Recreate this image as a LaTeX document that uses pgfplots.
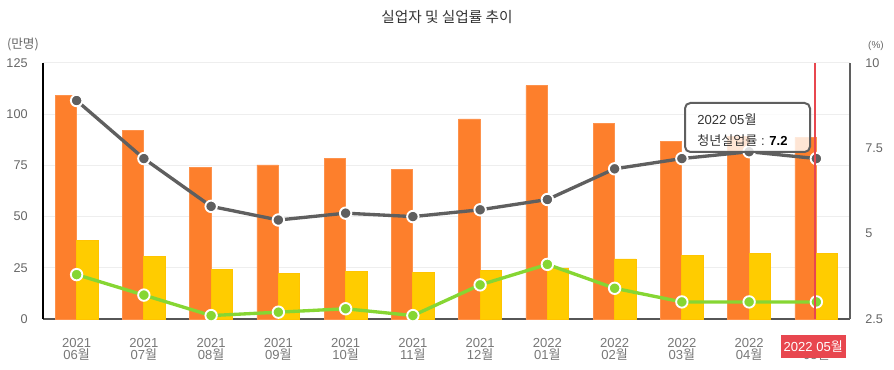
\documentclass[border=0pt]{standalone}
\usepackage{fontspec}
\setmainfont{Liberation Sans}
\newfontfamily\kr{Noto Sans CJK KR}
\usepackage{pgfplots}
\pgfplotsset{compat=1.18}
\definecolor{orangebar}{HTML}{FD7F2C}
\definecolor{yellowbar}{HTML}{FFCC00}
\definecolor{grayline}{HTML}{5F5F5F}
\definecolor{greenline}{HTML}{86D633}
\definecolor{tickgray}{HTML}{666666}
\definecolor{xtickgray}{HTML}{777777}
\definecolor{gridgray}{HTML}{EEEEEE}
\definecolor{redmark}{HTML}{E8474F}
\definecolor{titlegray}{HTML}{333333}
\begin{document}
\begin{tikzpicture}
\path[use as bounding box] (0pt,0pt) rectangle (670.5pt,277.5pt);
\begin{axis}[
  at={(32.25pt,38.25pt)}, anchor=south west, scale only axis,
  width=605.25pt, height=192pt,
  xmin=-0.5, xmax=11.5, ymin=0, ymax=125,
  axis x line*=bottom, axis y line*=left,
  x axis line style={-, draw=grayline!90!black, line width=1.6pt},
  y axis line style={-, draw=black, line width=0.9pt},
  ytick={0,25,50,75,100,125},
  ymajorgrids, grid style={draw=gridgray, line width=0.75pt},
  major tick length=0pt,
  /pgf/number format/assume math mode=true,
  tick label style={text=tickgray},
  yticklabel style={font=\fontsize{9.5}{11}\selectfont, xshift=-8pt},
  xtick={0,...,11},
  xticklabel style={font=\fontsize{9.8}{9.3}\selectfont, align=center, yshift=-11pt, text=xtickgray},
  xticklabels={{2021\\06{\kr 월}},{2021\\07{\kr 월}},{2021\\08{\kr 월}},{2021\\09{\kr 월}},{2021\\10{\kr 월}},{2021\\11{\kr 월}},{2021\\12{\kr 월}},{2022\\01{\kr 월}},{2022\\02{\kr 월}},{2022\\03{\kr 월}},{2022\\04{\kr 월}},{2022\\05{\kr 월}}},
  clip=false,
]
\addplot[ybar, bar width=16.1pt, bar shift=-8.05pt, fill=orangebar, draw=orangebar!85!white, line width=0.6pt]
  coordinates {(0,109.0) (1,92.0) (2,74.0) (3,75.2) (4,78.6) (5,73.1) (6,97.7) (7,113.9) (8,95.5) (9,86.9) (10,89.0) (11,88.7)};
\addplot[ybar, bar width=16.1pt, bar shift=8.05pt, fill=yellowbar, draw=yellowbar!90!orange, line width=0.6pt]
  coordinates {(0,38.4) (1,30.6) (2,24.4) (3,22.1) (4,23.3) (5,22.8) (6,23.9) (7,24.9) (8,29.3) (9,31.2) (10,32.2) (11,32.2)};
\end{axis}
\begin{axis}[
  at={(32.25pt,38.25pt)}, anchor=south west, scale only axis,
  width=605.25pt, height=192pt,
  xmin=-0.5, xmax=11.5, ymin=2.5, ymax=10,
  axis x line=none, axis y line*=right,
  y axis line style={-, draw=grayline, line width=1.2pt},
  ytick={2.5,5,7.5,10},
  yticklabels={2.5,5,7.5,10},
  major tick length=0pt,
  tick label style={text=tickgray},
  yticklabel style={font=\fontsize{9.5}{11}\selectfont, xshift=8pt},
  clip=false,
]
\addplot[grayline, line width=2.5pt, mark=*, mark size=4.3pt, mark options={fill=grayline, draw=white, line width=1.4pt}]
  coordinates {(0,8.9) (1,7.2) (2,5.8) (3,5.4) (4,5.6) (5,5.5) (6,5.7) (7,6.0) (8,6.9) (9,7.2) (10,7.4) (11,7.2)};
\addplot[greenline, line width=2.5pt, mark=*, mark size=4.3pt, mark options={fill=greenline, draw=white, line width=1.4pt}]
  coordinates {(0,3.8) (1,3.2) (2,2.6) (3,2.7) (4,2.8) (5,2.6) (6,3.5) (7,4.1) (8,3.4) (9,3.0) (10,3.0) (11,3.0)};
\end{axis}
\begin{scope}[x=0.75pt,y=0.75pt]
% red marker line
\draw[redmark, line width=0.9pt] (815,51) -- (815,307);
% tooltip
\draw[fill=white, fill opacity=0.8, draw=grayline, line width=1.5pt, rounded corners=4pt] (685,218) rectangle (810,267);
\node[anchor=west, inner sep=0pt, text=titlegray, font=\fontsize{9.8}{11}\selectfont] at (697,250) {2022 05{\kr 월}};
\node[anchor=west, inner sep=0pt, text=titlegray, font=\fontsize{9.8}{11}\selectfont] at (697,229) {{\kr 청년실업률} : \textcolor{black}{\textbf{7.2}}};
% red label
\node[fill=redmark, text=white, inner sep=0pt, minimum width=48.75pt, minimum height=17.5pt, font=\fontsize{9.8}{11}\selectfont] at (813.2,23.3) {2022 05{\kr 월}};
% title and units
\node[text=titlegray, font=\kr\fontsize{11}{13}\selectfont] at (447,353) {실업자 및 실업률 추이};
\node[text=tickgray, font=\kr\fontsize{9.5}{11}\selectfont] at (23,325) {(만명)};
\node[text=tickgray, font=\fontsize{7.5}{9}\selectfont] at (876,324) {(\%)};
\end{scope}
\end{tikzpicture}
\end{document}
